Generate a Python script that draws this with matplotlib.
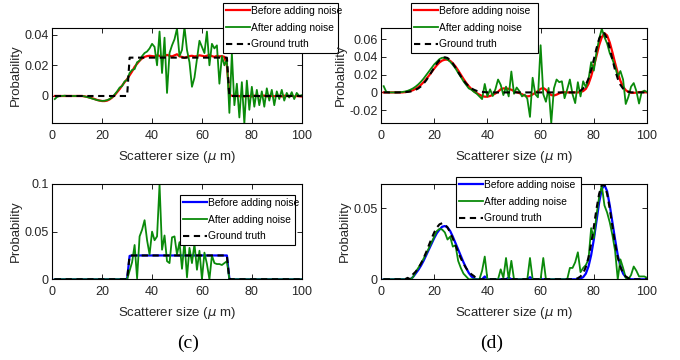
import matplotlib
matplotlib.use("Agg")
import matplotlib.pyplot as plt
import numpy as np

plt.rcParams['font.family'] = ['Liberation Sans', 'DejaVu Sans']
plt.rcParams['mathtext.fontset'] = 'dejavusans'

# ---------------- data ----------------
x = list(range(1, 101))

# (a) uniform distribution, reconstruction
a_truth = [0.0] * 30 + [0.025] * 40 + [0.0] * 30
a_before = [0.0, 0.0, 0.0, 0.0, 0.0, 0.0, 0.0, 0.0, 0.0, 0.0,
            0.0, 0.0, -0.0003, -0.0006, -0.001, -0.0015, -0.002, -0.0026, -0.003, -0.0033,
            -0.0033, -0.003, -0.0022, -0.001, 0.0005, 0.0025, 0.0045, 0.0068, 0.009, 0.011,
            0.0135, 0.016, 0.019, 0.021, 0.023, 0.0245, 0.0255, 0.026, 0.0262, 0.026,
            0.0258, 0.0265, 0.0262, 0.0255, 0.026, 0.0268, 0.0262, 0.0258, 0.0265, 0.0272,
            0.0258, 0.0255, 0.0248, 0.0255, 0.026, 0.0262, 0.0258, 0.026, 0.0265, 0.0262,
            0.0258, 0.0262, 0.0268, 0.026, 0.0255, 0.0262, 0.0258, 0.026, 0.0255, 0.02,
            0.0005, 0.0002, -0.0003, 0.0004, -0.0002, 0.0003, -0.0004, 0.0002, 0.0, -0.0003,
            0.0002, 0.0004, -0.0002, 0.0, 0.0003, -0.0003, 0.0002, 0.0, -0.0002, 0.0003,
            0.0, -0.0003, 0.0002, 0.0, -0.0002, 0.0002, -0.0004, 0.0, -0.0002, -0.0003]
a_after = [-0.002, -0.0005, 0.0, 0.0, 0.0002, 0.0, 0.0, 0.0, 0.0, 0.0,
           0.0, 0.0, -0.0003, -0.0007, -0.0012, -0.0017, -0.0022, -0.0027, -0.003, -0.0032,
           -0.0031, -0.0027, -0.002, -0.0008, 0.001, 0.003, 0.0055, 0.0065, 0.0095, 0.0105,
           0.015, 0.017, 0.0175, 0.022, 0.023, 0.026, 0.028, 0.029, 0.031, 0.034,
           0.032, 0.02, 0.042, 0.015, 0.038, 0.002, 0.028, 0.033, 0.037, 0.044,
           0.026, 0.03, 0.045, 0.03, 0.022, 0.006, 0.012, 0.024, 0.036, 0.032,
           0.028, 0.042, 0.02, 0.034, 0.031, 0.033, 0.008, 0.026, 0.02, 0.024,
           -0.011, 0.028, -0.006, 0.008, -0.014, 0.009, -0.018, 0.010, -0.009, 0.006,
           -0.007, 0.004, -0.006, 0.003, -0.007, 0.005, -0.003, 0.004, -0.006, 0.003,
           -0.002, 0.004, -0.003, 0.002, -0.001, 0.0025, -0.002, 0.002, 0.0, 0.0005]

# (b) bimodal distribution, reconstruction
b_truth = [0.0, 0.0, 0.0, 0.0, 0.0, 0.0, 0.0, 0.0001, 0.0003, 0.0006,
           0.001, 0.0017, 0.0029, 0.0045, 0.0068, 0.0099, 0.0136, 0.0181, 0.023, 0.0279,
           0.0325, 0.0362, 0.0387, 0.0395, 0.0387, 0.0362, 0.0325, 0.0279, 0.023, 0.0181,
           0.0136, 0.0099, 0.0068, 0.0045, 0.0029, 0.0017, 0.001, 0.0006, 0.0003, 0.0001,
           0.0, 0.0, 0.0, 0.0, 0.0, 0.0, 0.0, 0.0, 0.0, 0.0,
           0.0, 0.0, 0.0, 0.0, 0.0, 0.0, 0.0, 0.0, 0.0, 0.0,
           0.0, 0.0, 0.0, 0.0, 0.0, 0.0, 0.0, 0.0, 0.0, 0.0,
           0.0, 0.0, 0.0, 0.0008, 0.002, 0.0043, 0.0086, 0.0154, 0.025, 0.037,
           0.0495, 0.0602, 0.0664, 0.0664, 0.0602, 0.0495, 0.037, 0.025, 0.0154, 0.0086,
           0.0043, 0.002, 0.0008, 0.0, 0.0, 0.0, 0.0, 0.0, 0.0, 0.0]
b_before = [0.0, 0.0, 0.0, 0.0, 0.0, 0.0, 0.0, 0.0, 0.0003, 0.0008,
            0.0015, 0.0025, 0.004, 0.006, 0.0085, 0.0115, 0.015, 0.0188, 0.0228, 0.0268,
            0.0305, 0.0337, 0.0358, 0.0368, 0.0368, 0.0355, 0.0328, 0.0292, 0.0248, 0.02,
            0.0152, 0.0108, 0.007, 0.0038, 0.0012, -0.0008, -0.0025, -0.004, -0.0048, -0.0048,
            -0.004, -0.0028, -0.0012, 0.0008, 0.0035, 0.0045, 0.0045, 0.004, 0.003, 0.0015,
            0.0002, -0.0008, -0.002, -0.0035, -0.0045, -0.004, -0.0022, -0.0005, 0.0015, 0.004,
            0.005, 0.003, -0.0008, -0.003, -0.0035, -0.0025, -0.001, 0.0, 0.0002, 0.0,
            0.0, 0.0, 0.0, 0.0, 0.0005, 0.0015, 0.004, 0.0095, 0.018, 0.029,
            0.041, 0.053, 0.062, 0.0665, 0.064, 0.056, 0.045, 0.033, 0.022, 0.013,
            0.0065, 0.0025, 0.0005, -0.0003, -0.0005, -0.0002, 0.0003, 0.0005, 0.0002, 0.0]
b_after = [0.007, 0.0005, 0.0, 0.0, 0.0, 0.0, 0.0002, 0.0005, 0.001, 0.0018,
           0.003, 0.0045, 0.0065, 0.009, 0.012, 0.0155, 0.0195, 0.0235, 0.0275, 0.0315,
           0.0345, 0.0375, 0.039, 0.0385, 0.037, 0.0345, 0.031, 0.027, 0.022, 0.0175,
           0.0125, 0.0085, 0.0045, 0.003, 0.0005, -0.0015, -0.0045, -0.0075, 0.0095, -0.0045,
           0.0035, -0.004, 0.0035, 0.0145, 0.0085, -0.003, 0.0065, -0.0045, 0.0235, -0.0015,
           0.0055, 0.0015, -0.0045, -0.0025, -0.007, -0.0275, 0.0165, -0.002, -0.0055, 0.053,
           -0.002, -0.0105, 0.005, -0.0345, 0.0045, 0.0145, 0.0115, 0.0125, -0.0065, 0.0035,
           0.0145, -0.002, -0.012, 0.0115, -0.0045, 0.0125, 0.006, 0.0145, 0.034, 0.0245,
           0.045, 0.06, 0.0715, 0.062, 0.055, 0.044, 0.037, 0.029, 0.018, 0.024,
           0.0145, -0.013, -0.005, 0.0065, 0.0105, 0.0015, -0.0125, 0.0005, 0.002, 0.0005]

# (c) uniform distribution, non-negative reconstruction
c_truth = [0.0] * 30 + [0.025] * 40 + [0.0] * 30
c_before = [0.0] * 29 + [0.0005, 0.0245] + [0.025] * 39 + [0.0005] + [0.0] * 29
c_after = [0.0, 0.0, 0.0, 0.0, 0.0, 0.0, 0.0, 0.0, 0.0, 0.0,
           0.0, 0.0, 0.0, 0.0, 0.0, 0.0, 0.0, 0.0, 0.0, 0.0,
           0.0, 0.0, 0.0, 0.0, 0.0, 0.0, 0.0, 0.0, 0.0, 0.0,
           0.009, 0.018, 0.036, 0.001, 0.045, 0.052, 0.062, 0.041, 0.026, 0.05,
           0.041, 0.045, 0.0995, 0.031, 0.046, 0.019, 0.017, 0.044, 0.045, 0.026,
           0.039, 0.011, 0.04, 0.002, 0.033, 0.017, 0.037, 0.01, 0.03, 0.0,
           0.028, 0.016, 0.0, 0.025, 0.017, 0.016, 0.016, 0.015, 0.017, 0.019,
           0.0, 0.0, 0.0, 0.0, 0.0, 0.0, 0.0, 0.0, 0.0, 0.0,
           0.0, 0.0, 0.0, 0.0, 0.0, 0.0, 0.0, 0.0, 0.0, 0.0,
           0.0, 0.0, 0.0, 0.0, 0.0, 0.0, 0.0, 0.0, 0.0, 0.0]

# (d) bimodal distribution, non-negative reconstruction
d_truth = [0.0, 0.0, 0.0, 0.0, 0.0, 0.0, 0.0, 0.0, 0.0, 0.001,
           0.0, 0.0035, 0.0053, 0.0078, 0.011, 0.0148, 0.0192, 0.024, 0.0287, 0.033,
           0.0365, 0.0387, 0.0395, 0.0387, 0.0365, 0.033, 0.0287, 0.024, 0.0192, 0.0148,
           0.011, 0.0078, 0.0053, 0.0035, 0.0022, 0.0, 0.0, 0.0, 0.0, 0.0,
           0.0, 0.0, 0.0, 0.0, 0.0, 0.0, 0.0, 0.0, 0.0, 0.0,
           0.0, 0.0, 0.0, 0.0, 0.0, 0.0, 0.0, 0.0, 0.0, 0.0,
           0.0, 0.0, 0.0, 0.0, 0.0, 0.0, 0.0, 0.0, 0.0, 0.0,
           0.0, 0.0, 0.0, 0.0008, 0.002, 0.0043, 0.0086, 0.0154, 0.025, 0.037,
           0.0495, 0.0602, 0.0664, 0.0664, 0.0602, 0.0495, 0.037, 0.025, 0.0154, 0.0086,
           0.0043, 0.002, 0.0008, 0.0, 0.0, 0.0, 0.0, 0.0, 0.0, 0.0]
d_before = [0.0, 0.0, 0.0, 0.0, 0.0, 0.0, 0.0, 0.0, 0.0, 0.0,
            0.0, 0.0015, 0.004, 0.0065, 0.0095, 0.013, 0.017, 0.021, 0.025, 0.029,
            0.0325, 0.035, 0.037, 0.0375, 0.0365, 0.034, 0.03, 0.0255, 0.021, 0.0165,
            0.012, 0.008, 0.0045, 0.002, 0.0005, 0.0, 0.0, 0.0, 0.002, 0.0,
            0.0, 0.0, 0.0, 0.0, 0.0, 0.0, 0.0, 0.0012, 0.0, 0.0,
            0.0, 0.0, 0.0, 0.0, 0.0, 0.0015, 0.0, 0.0, 0.0, 0.0,
            0.0, 0.0, 0.0, 0.0, 0.0, 0.0, 0.0, 0.0, 0.0, 0.0,
            0.0, 0.0, 0.0, 0.0, 0.0005, 0.0015, 0.004, 0.009, 0.017, 0.028,
            0.041, 0.054, 0.0635, 0.0665, 0.062, 0.052, 0.04, 0.028, 0.017, 0.009,
            0.004, 0.0015, 0.0005, 0.0, 0.0, 0.0, 0.0, 0.0, 0.0, 0.0]
d_after = [0.0, 0.0, 0.0, 0.0, 0.0, 0.0, 0.0, 0.0, 0.0, 0.0,
           0.0, 0.0015, 0.005, 0.008, 0.011, 0.0145, 0.018, 0.022, 0.026, 0.03,
           0.034, 0.0355, 0.035, 0.033, 0.028, 0.03, 0.023, 0.024, 0.013, 0.008,
           0.004, 0.002, 0.0, 0.0, 0.0, 0.0, 0.0, 0.006, 0.016, 0.0,
           0.0, 0.0, 0.0, 0.0, 0.007, 0.001, 0.015, 0.0, 0.013, 0.0,
           0.0, 0.0, 0.0, 0.0, 0.0, 0.015, 0.0, 0.0, 0.0, 0.0,
           0.015, 0.0, 0.0, 0.0, 0.0, 0.0, 0.0, 0.0, 0.0, 0.0,
           0.008, 0.008, 0.012, 0.019, 0.005, 0.008, 0.01, 0.014, 0.036, 0.029,
           0.045, 0.058, 0.066, 0.052, 0.047, 0.04, 0.031, 0.02, 0.0, 0.014,
           0.008, 0.001, 0.0, 0.003, 0.009, 0.006, 0.002, 0.002, 0.002, 0.001]

x_ticks = [0, 20, 40, 60, 80, 100]
x_ticklabels = ['0', '20', '40', '60', '80', '100']
a_yticks = [0, 0.02, 0.04]
a_yticklabels = ['0', '0.02', '0.04']
b_yticks = [-0.02, 0, 0.02, 0.04, 0.06]
b_yticklabels = ['-0.02', '0', '0.02', '0.04', '0.06']
c_yticks = [0, 0.05, 0.1]
c_yticklabels = ['0', '0.05', '0.1']
d_yticks = [0, 0.05]
d_yticklabels = ['0', '0.05']

labels = ['Before adding noise', 'After adding noise', 'Ground truth']

# ---------------- figure ----------------
fig = plt.figure(figsize=(6.8, 3.6), dpi=100)

GREEN = '#0a8a0a'
TXT = '#262626'


def panel(rect, before, after, truth, before_color, ylim, yticks, yticklabels,
          leg_xy, leg_w):
    ax = fig.add_axes(rect)
    ax.plot(x, before, color=before_color, lw=1.6, label=labels[0])
    ax.plot(x, after, color=GREEN, lw=1.3, label=labels[1])
    ax.plot(x, truth, color='black', lw=1.5, ls=(0, (3.0, 2.2)), label=labels[2])
    ax.set_xlim(0, 100)
    ax.set_ylim(*ylim)
    ax.set_xticks(x_ticks)
    ax.set_xticklabels(x_ticklabels)
    ax.set_yticks(yticks)
    ax.set_yticklabels(yticklabels)
    ax.tick_params(direction='in', length=3.5, width=0.6, top=True, right=True,
                   labelsize=9, colors='black', labelcolor=TXT)
    ax.tick_params(axis='x', pad=5)
    ax.tick_params(axis='y', pad=2.5)
    for s in ax.spines.values():
        s.set_linewidth(0.8)
        s.set_color('black')
    ax.set_xlabel(r'Scatterer size ($\mu$ m)', fontsize=9.5, color=TXT, labelpad=5)
    ax.set_ylabel('Probability', fontsize=9.5, color=TXT, labelpad=2)
    leg = ax.legend(loc='upper left', mode='expand',
                    bbox_to_anchor=(leg_xy[0], leg_xy[1] - 0.2, leg_w, 0.2),
                    bbox_transform=fig.transFigure, borderaxespad=0,
                    fontsize=7.4, handlelength=2.3, handletextpad=0.15,
                    labelspacing=0.65, borderpad=0.3, fancybox=False,
                    framealpha=1, edgecolor='black', facecolor='white')
    leg.get_frame().set_linewidth(0.8)
    for t in leg.get_texts():
        t.set_color('black')
    return ax


panel([0.0769, 0.6575, 0.3668, 0.2655], a_before, a_after, a_truth, '#ff0000',
      (-0.0178, 0.0445), a_yticks, a_yticklabels, (223 / 680, 1 - 3 / 360), 115 / 680)
panel([0.5603, 0.6575, 0.3912, 0.2655], b_before, b_after, b_truth, '#ff0000',
      (-0.0347, 0.0727), b_yticks, b_yticklabels, (411 / 680, 1 - 3 / 360), 127 / 680)
panel([0.0769, 0.2242, 0.3668, 0.2647], c_before, c_after, c_truth, '#0000ff',
      (0, 0.1), c_yticks, c_yticklabels, (180 / 680, 1 - 195 / 360), 115 / 680)
panel([0.5603, 0.2242, 0.3912, 0.2647], d_before, d_after, d_truth, '#0000ff',
      (0, 0.0671), d_yticks, d_yticklabels, (456 / 680, 1 - 177 / 360), 125 / 680)

fig.text(188 / 680, 1 - 343 / 360, '(c)', ha='center', va='center', fontsize=14,
         family=['Liberation Serif', 'DejaVu Serif'])
fig.text(492 / 680, 1 - 343 / 360, '(d)', ha='center', va='center', fontsize=14,
         family=['Liberation Serif', 'DejaVu Serif'])

fig.savefig('out.png', dpi=100, facecolor='white')
